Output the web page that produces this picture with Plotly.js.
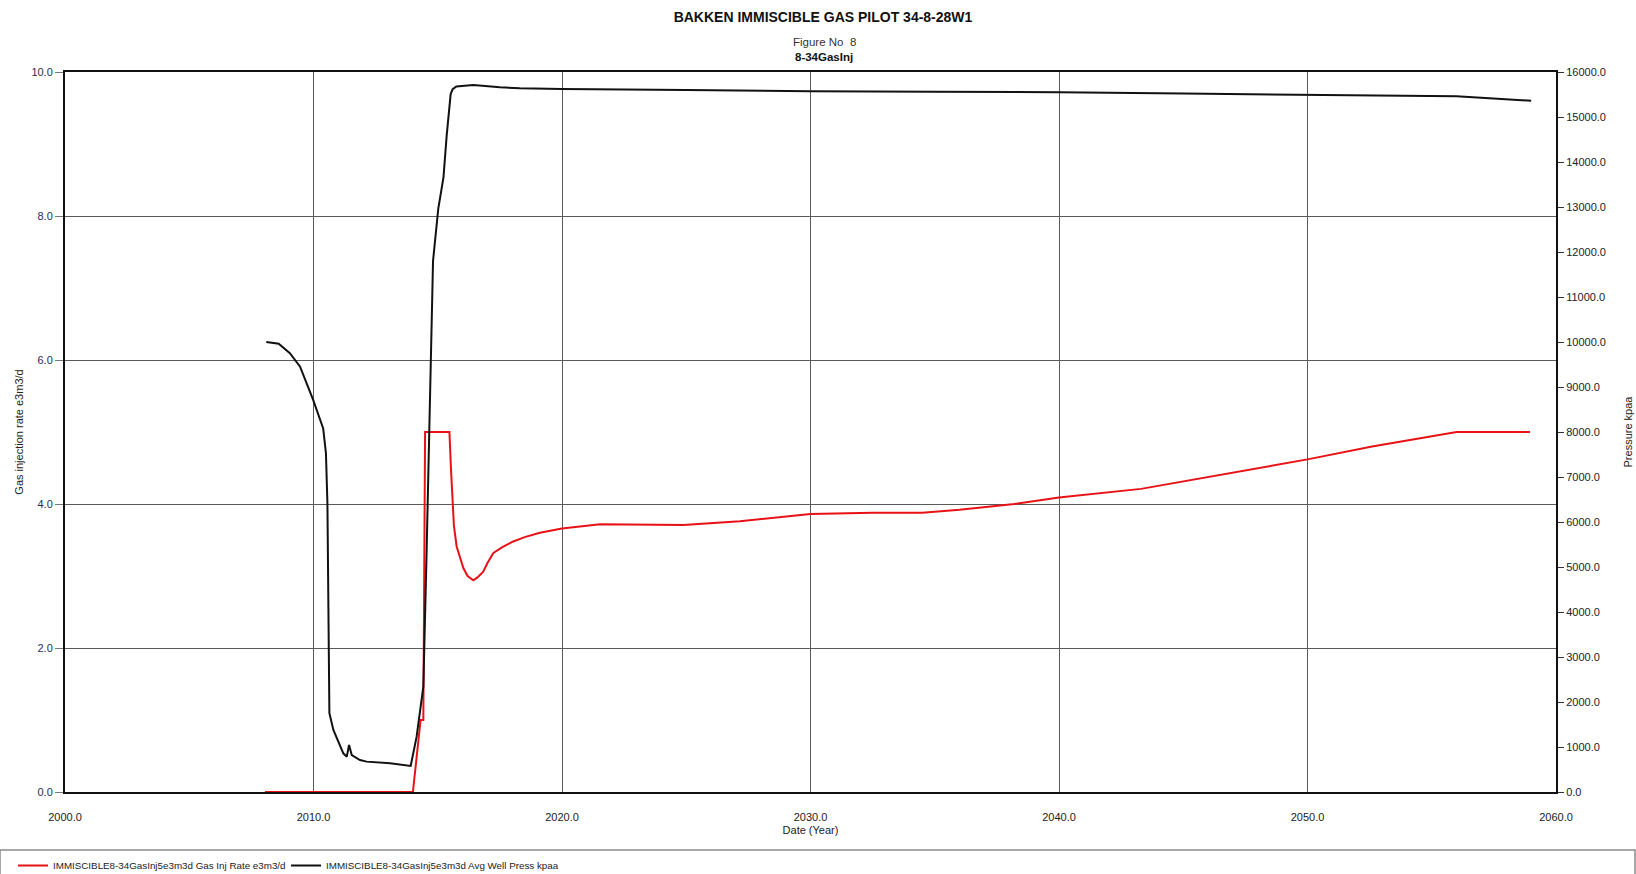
<!DOCTYPE html>
<html>
<head>
<meta charset="utf-8">
<script src="https://cdn.plot.ly/plotly-3.0.1.min.js"></script>
<style>
  html, body { margin: 0; padding: 0; background: #ffffff; }
  #chart { width: 1636px; height: 874px; }
</style>
</head>
<body>
<div id="chart"></div>
<script>
// Gas injection rate (e3m3/d) by date (decimal year)
const rateYears = [2008.05, 2014.0, 2014.31, 2014.42, 2014.49, 2015.47, 2015.53, 2015.6, 2015.65, 2015.76,
  2015.9, 2016.03, 2016.2, 2016.43, 2016.6, 2016.83, 2017.0, 2017.24, 2017.6, 2018.04,
  2018.5, 2019.11, 2020.0, 2021.53, 2024.88, 2027.16, 2030.0, 2032.5, 2034.5, 2036.0,
  2038.2, 2040.0, 2043.3, 2046.4, 2050.0, 2052.6, 2056.0, 2058.95];
const rateValues = [0, 0, 1.0, 1.0, 5.0, 5.0, 4.5, 4.0, 3.7, 3.41,
  3.25, 3.11, 3.0, 2.94, 2.98, 3.06, 3.18, 3.32, 3.40, 3.48,
  3.54, 3.60, 3.66, 3.72, 3.71, 3.76, 3.86, 3.88, 3.88, 3.92,
  4.00, 4.09, 4.21, 4.40, 4.62, 4.80, 5.00, 5.00];

// Average well pressure (kPa abs) by date (decimal year)
const pressYears = [2008.1, 2008.6, 2009.05, 2009.46, 2009.99, 2010.39, 2010.5, 2010.56, 2010.64, 2010.8,
  2011.2, 2011.34, 2011.43, 2011.54, 2011.87, 2012.14, 2013.08, 2013.91, 2014.15, 2014.42,
  2014.55, 2014.75, 2014.81, 2015.02, 2015.23, 2015.36, 2015.52, 2015.6, 2015.75, 2016.43,
  2017.5, 2018.3, 2020.0, 2025.0, 2030.0, 2035.0, 2040.0, 2045.0, 2050.0, 2056.0, 2059.0];
const pressValues = [10000, 9960, 9750, 9450, 8710, 8080, 7530, 6420, 1750, 1380,
  860, 785, 1045, 820, 710, 675, 637, 578, 1230, 2340,
  5300, 10490, 11800, 12960, 13660, 14590, 15510, 15620, 15680, 15710,
  15660, 15640, 15620, 15600, 15570, 15560, 15550, 15520, 15500, 15460, 15360];

const rateName = 'IMMISCIBLE8-34GasInj5e3m3d Gas Inj Rate e3m3/d';
const pressName = 'IMMISCIBLE8-34GasInj5e3m3d Avg Well Press kpaa';

const chartTitle = 'BAKKEN IMMISCIBLE GAS PILOT 34-8-28W1';
const figureLabel = 'Figure No\u00a0 8';
const figureName = '8-34GasInj';

const FONT = 'Liberation Sans, Arial, sans-serif';
const W = 1636, H = 874;
const M = { l: 65, r: 80, t: 72, b: 82, autoexpand: false };
const plotW = W - M.l - M.r, plotH = H - M.t - M.b;
// helpers converting page pixels to paper fractions
const px = x => (x - M.l) / plotW;
const py = y => (H - M.b - y) / plotH;

const traces = [
  {
    x: rateYears, y: rateValues, name: rateName, type: 'scatter', mode: 'lines',
    line: { color: 'rgb(232,18,22)', width: 2 }, yaxis: 'y', legend: 'legend'
  },
  {
    x: pressYears, y: pressValues, name: pressName, type: 'scatter', mode: 'lines',
    line: { color: '#111111', width: 2 }, yaxis: 'y2', legend: 'legend2'
  }
];

const legendStyle = {
  orientation: 'h', xanchor: 'left', yanchor: 'top', y: py(851),
  font: { family: FONT, size: 9.8, color: '#222' },
  bgcolor: 'rgba(0,0,0,0)', borderwidth: 0
};

const layout = {
  width: W, height: H,
  margin: M,
  paper_bgcolor: '#ffffff', plot_bgcolor: '#ffffff',
  font: { family: FONT, size: 11, color: '#222' },
  showlegend: true,
  title: {
    text: '<b>' + chartTitle + '</b>',
    font: { family: FONT, size: 14, color: '#111' },
    xref: 'container', yref: 'container',
    x: 823 / W, y: 1 - 17.5 / H, xanchor: 'center', yanchor: 'middle'
  },
  xaxis: {
    range: [2000, 2060], dtick: 10, tick0: 2000, tickformat: '.1f',
    showgrid: true, gridcolor: '#5a5a5a', gridwidth: 1,
    showline: true, mirror: true, linecolor: '#111', linewidth: 2,
    zeroline: false, ticks: '', ticklabelstandoff: 14, automargin: false,
    tickfont: { family: FONT, size: 11, color: '#222' },
    title: { text: 'Date (Year)', font: { family: FONT, size: 11, color: '#222' }, standoff: 4 }
  },
  yaxis: {
    range: [0, 10], dtick: 2, tick0: 0, tickformat: '.1f',
    showgrid: true, gridcolor: '#5a5a5a', gridwidth: 1,
    showline: true, linecolor: '#111', linewidth: 2, automargin: false,
    zeroline: false, ticks: 'outside', ticklen: 8, tickcolor: '#777', tickwidth: 1,
    tickfont: { family: FONT, size: 11, color: '#2c2a55' },
    title: { text: 'Gas injection rate e3m3/d', font: { family: FONT, size: 11, color: '#222' }, standoff: 6 }
  },
  yaxis2: {
    range: [0, 16000], dtick: 1000, tick0: 0, tickformat: '.1f',
    overlaying: 'y', side: 'right', anchor: 'x', automargin: false,
    showgrid: false, showline: true, linecolor: '#111', linewidth: 2,
    zeroline: false, ticks: 'outside', ticklen: 6, tickcolor: '#333', tickwidth: 1,
    tickfont: { family: FONT, size: 11, color: '#222' },
    title: { text: 'Pressure kpaa', font: { family: FONT, size: 11, color: '#222' }, standoff: 19 }
  },
  legend: Object.assign({}, legendStyle, { x: px(13) }),
  legend2: Object.assign({}, legendStyle, { x: px(286) }),
  annotations: [
    {
      text: figureLabel, xref: 'paper', yref: 'paper', x: px(824), y: py(42),
      xanchor: 'center', yanchor: 'middle', showarrow: false,
      font: { family: FONT, size: 11.5, color: '#333' }
    },
    {
      text: '<b>' + figureName + '</b>', xref: 'paper', yref: 'paper', x: px(824), y: py(57.5),
      xanchor: 'center', yanchor: 'middle', showarrow: false,
      font: { family: FONT, size: 11.5, color: '#111' }
    }
  ],
  shapes: [
    {
      type: 'rect', xref: 'paper', yref: 'paper', layer: 'above',
      x0: px(0), x1: px(W - 1), y0: py(850), y1: py(H + 4),
      line: { color: '#8a8a8a', width: 1.5 }, fillcolor: 'rgba(0,0,0,0)'
    }
  ]
};

Plotly.newPlot('chart', traces, layout, { displayModeBar: false, responsive: false });
</script>
</body>
</html>
